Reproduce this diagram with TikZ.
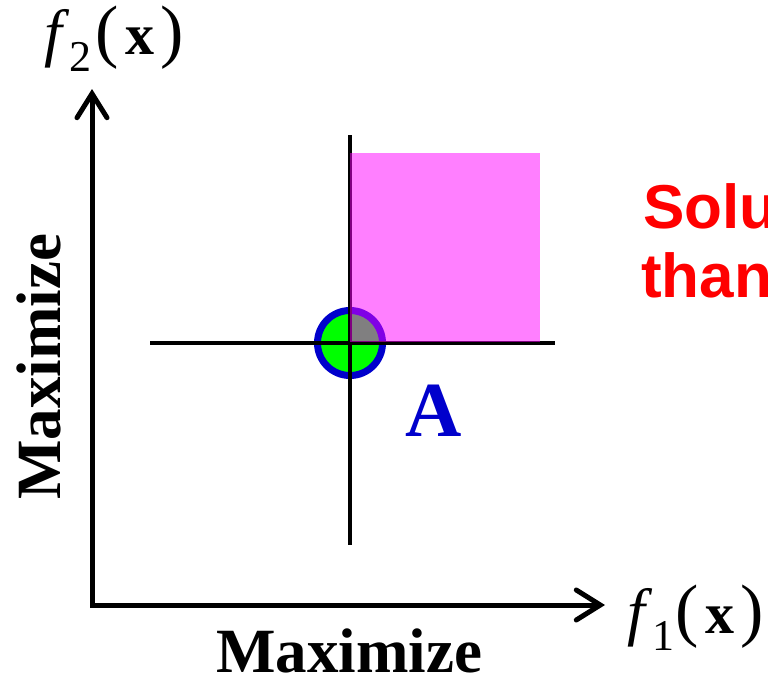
\documentclass[tikz,border=0pt]{standalone}
\usepackage{fontspec}
\setmainfont{Liberation Serif}
\newfontfamily\arialfont{Liberation Sans}
\usetikzlibrary{arrows.meta}
\definecolor{ptblue}{RGB}{0,0,204}
\definecolor{ptgreen}{RGB}{0,255,0}
\definecolor{ptmag}{RGB}{255,0,255}
\newcommand{\fsz}[1]{\fontsize{#1}{#1}\selectfont}
\newcommand{\fxlabel}[2]{{\fsz{64}\itshape f}\kern8pt\raisebox{-17pt}{\fsz{44}#1}\kern#2{\fsz{70}(}\kern6pt{\fsz{58}\bfseries x}\kern6pt{\fsz{70})}}
\begin{document}
\begin{tikzpicture}[x=1pt,y=-1pt,
  axisline/.style={line width=5pt,line join=miter},
  crossline/.style={line width=4.5pt},
  tipbarb/.tip={Straight Barb[length=24pt,width=30pt,line cap=round]},
  bigbold/.style={inner sep=0pt,anchor=base west,font=\fsz{63}\bfseries},
  redtext/.style={inner sep=0pt,anchor=base west,text=red,font=\arialfont\fsz{62}\bfseries},
  lbl/.style={inner sep=0pt,anchor=base west}]
\useasboundingbox (0,0) rectangle (768,685);
\clip (0,0) rectangle (768,685);
% point A
\node[circle,draw=ptblue,fill=ptgreen,line width=7pt,minimum size=65pt,inner sep=0pt] (ptA) at (350,343) {};
% crosshair
\coordinate (hl) at (150,343);
\coordinate (hr) at (555,343);
\coordinate (vt) at (350,135);
\coordinate (vb) at (350,545);
\draw[crossline] (hl) -- (hr);
\draw[crossline] (vt) -- (vb);
% dominated region
\fill[ptmag,opacity=0.5] (350,153) rectangle (540,342);
% axes
\coordinate (ytip) at (92,89);
\coordinate (orig) at (92,605);
\coordinate (xtip) at (605,605);
\draw[axisline,{tipbarb}-{tipbarb}] (ytip) -- (orig) -- (xtip);
% labels
\node[lbl] (f2) at (44,55) {\fxlabel{2}{4pt}};
\node[lbl] (f1) at (627,633) {\fxlabel{1}{1pt}};
\node[bigbold] (mx) at (216,672) {Maximize};
\node[bigbold,rotate=90] (my) at (60,500) {Maximize};
\node[lbl,text=ptblue,font=\fsz{78}\bfseries] (lA) at (405,436) {A};
\node[redtext] (s1) at (643,228) {Solu};
\node[redtext] (s2) at (641,297) {than};
\end{tikzpicture}
\end{document}
